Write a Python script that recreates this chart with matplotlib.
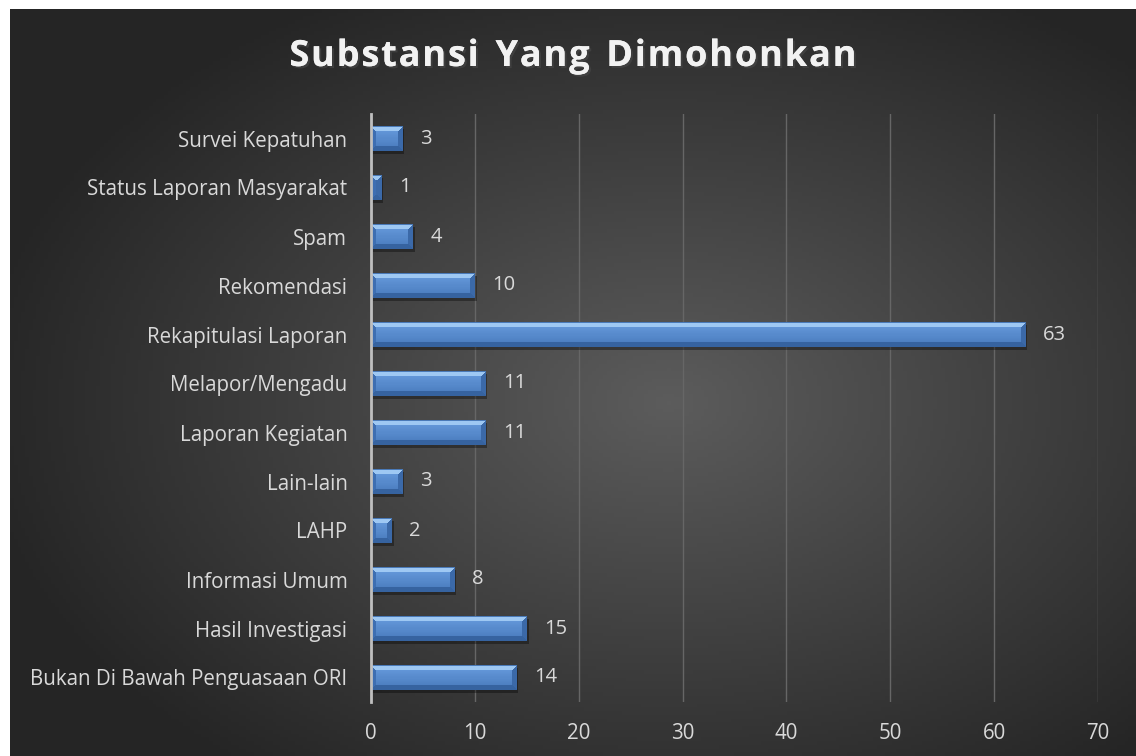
import numpy as np
import matplotlib
matplotlib.use("Agg")
import matplotlib.pyplot as plt
from matplotlib import patheffects
from matplotlib.transforms import offset_copy

# data (top to bottom as in the chart)
categories = ["Survei Kepatuhan", "Status Laporan Masyarakat", "Spam", "Rekomendasi",
              "Rekapitulasi Laporan", "Melapor/Mengadu", "Laporan Kegiatan", "Lain-lain",
              "LAHP", "Informasi Umum", "Hasil Investigasi", "Bukan Di Bawah Penguasaan ORI"]
values = [3, 1, 4, 10, 63, 11, 11, 3, 2, 8, 15, 14]
xticks = [0, 10, 20, 30, 40, 50, 60, 70]
title = "Substansi Yang Dimohonkan"

plt.rcParams['font.family'] = ['Open Sans', 'DejaVu Sans']
W, H = 1136, 756
fig = plt.figure(figsize=(W / 100, H / 100), dpi=100)
fig.patch.set_facecolor("white")

# dark radial background of the chart area
bg = fig.add_axes([10 / W, 0, 1 - 10 / W, 1 - 9 / H])
bg.set_axis_off()
yy, xx = np.mgrid[0:200, 0:300]
cx, cy = 175, 105
r = np.sqrt(((xx - cx) / 300) ** 2 + ((yy - cy) / 200) ** 2) / 0.62
r = np.clip(r, 0, 1)
lo = np.array([0x5c, 0x5c, 0x5c]) / 255
hi = np.array([0x25, 0x25, 0x25]) / 255
img = lo[None, None, :] * (1 - r[..., None]) + hi[None, None, :] * r[..., None]
bg.imshow(img, aspect="auto", extent=(0, 1, 0, 1))
bg.set_xlim(0, 1)
bg.set_ylim(0, 1)

ax = fig.add_axes([371 / W, 1 - 702 / H, (1098 - 371) / W, (702 - 114) / H])
ax.patch.set_alpha(0)
n = len(categories)
ypos = np.arange(n)[::-1]
ax.set_xlim(0, 70)
ax.set_ylim(-0.5, n - 0.5)

bh = 0.49
# soft shadow, shifted a few pixels right/down
sh_tr = offset_copy(ax.transData, fig=fig, x=2, y=-3, units="dots")
ax.barh(ypos, values, height=bh, color="black", alpha=0.35, zorder=2, transform=sh_tr)
bars = ax.barh(ypos, values, height=bh, color="#4f81bd", zorder=3)

# bevelled fill for each bar
def bevel_image(wpx, hpx):
    wpx = max(int(round(wpx)), 2)
    hpx = max(int(round(hpx)), 2)
    b = 5.0
    Y, X = np.mgrid[0:hpx, 0:wpx] + 0.5
    face_top = np.array([0x6a, 0x9e, 0xe0]) / 255
    face_bot = np.array([0x46, 0x78, 0xba]) / 255
    t = (Y / hpx)[..., None]
    out = face_top * (1 - t) + face_bot * t
    dt, db, dl, dr = Y, hpx - Y, X, wpx - X
    m = np.minimum(np.minimum(dt, db), np.minimum(dl, dr))
    top = (dt == m) & (dt < b)
    bot = (db == m) & (db < b)
    lef = (dl == m) & (dl < b) & ~top & ~bot
    rig = (dr == m) & (dr < b) & ~top & ~bot
    out[top] = np.array([0x9e, 0xc8, 0xf3]) / 255
    out[bot] = np.array([0x36, 0x63, 0xa0]) / 255
    out[lef] = np.array([0x3d, 0x6e, 0xb2]) / 255
    out[rig] = np.array([0x3b, 0x69, 0xa8]) / 255
    out[0, :] = np.array([0x4a, 0x7a, 0xb8]) / 255
    return out

fig.canvas.draw()
for bar, v, y in zip(bars, values, ypos):
    x0, y0 = ax.transData.transform((0, y - bh / 2))
    x1, y1 = ax.transData.transform((v, y + bh / 2))
    im = ax.imshow(bevel_image(x1 - x0, y1 - y0), extent=(0, v, y - bh / 2, y + bh / 2),
                   aspect="auto", zorder=4, interpolation="nearest")
    im.set_clip_path(bar)
    ax.text(v + 1.7, y, str(v), va="center", ha="left", color="#d9d9d9", fontsize=14.5)

ax.set_xlim(0, 70)
ax.set_ylim(-0.5, n - 0.5)
ax.set_yticks(ypos)
ax.set_yticklabels(categories)
ax.set_xticks(xticks)
ax.tick_params(axis="both", length=0, colors="#d9d9d9", labelsize=14.8)
ax.tick_params(axis="y", pad=17)
ax.tick_params(axis="x", pad=15)
ax.grid(axis="x", color="#666666", lw=1, zorder=1)
ax.set_axisbelow(True)
for s in ["top", "right", "bottom"]:
    ax.spines[s].set_visible(False)
ax.spines["left"].set_color("#bfbfbf")
ax.spines["left"].set_linewidth(2)
ax.spines["left"].set_zorder(5)

# title with letter spacing, one glyph at a time
renderer = fig.canvas.get_renderer()
fx = dict(color="#f2f2f2", fontsize=26, fontweight="bold",
          path_effects=[patheffects.withSimplePatchShadow(offset=(1.5, -1.5), alpha=0.6),
                        patheffects.Normal()])
track = 1.8
widths = []
for ch in title:
    t = fig.text(0, 0, ch if ch != " " else "n", **fx)
    w = t.get_window_extent(renderer).width
    t.remove()
    widths.append(w * 0.55 if ch == " " else w)
total = sum(widths) + track * (len(title) - 1)
x = 573 - total / 2
for ch, w in zip(title, widths):
    if ch != " ":
        fig.text(x / W, 1 - 57 / H, ch, ha="left", va="center", **fx)
    x += w + track

fig.savefig("out.png", dpi=100, facecolor=fig.get_facecolor())
